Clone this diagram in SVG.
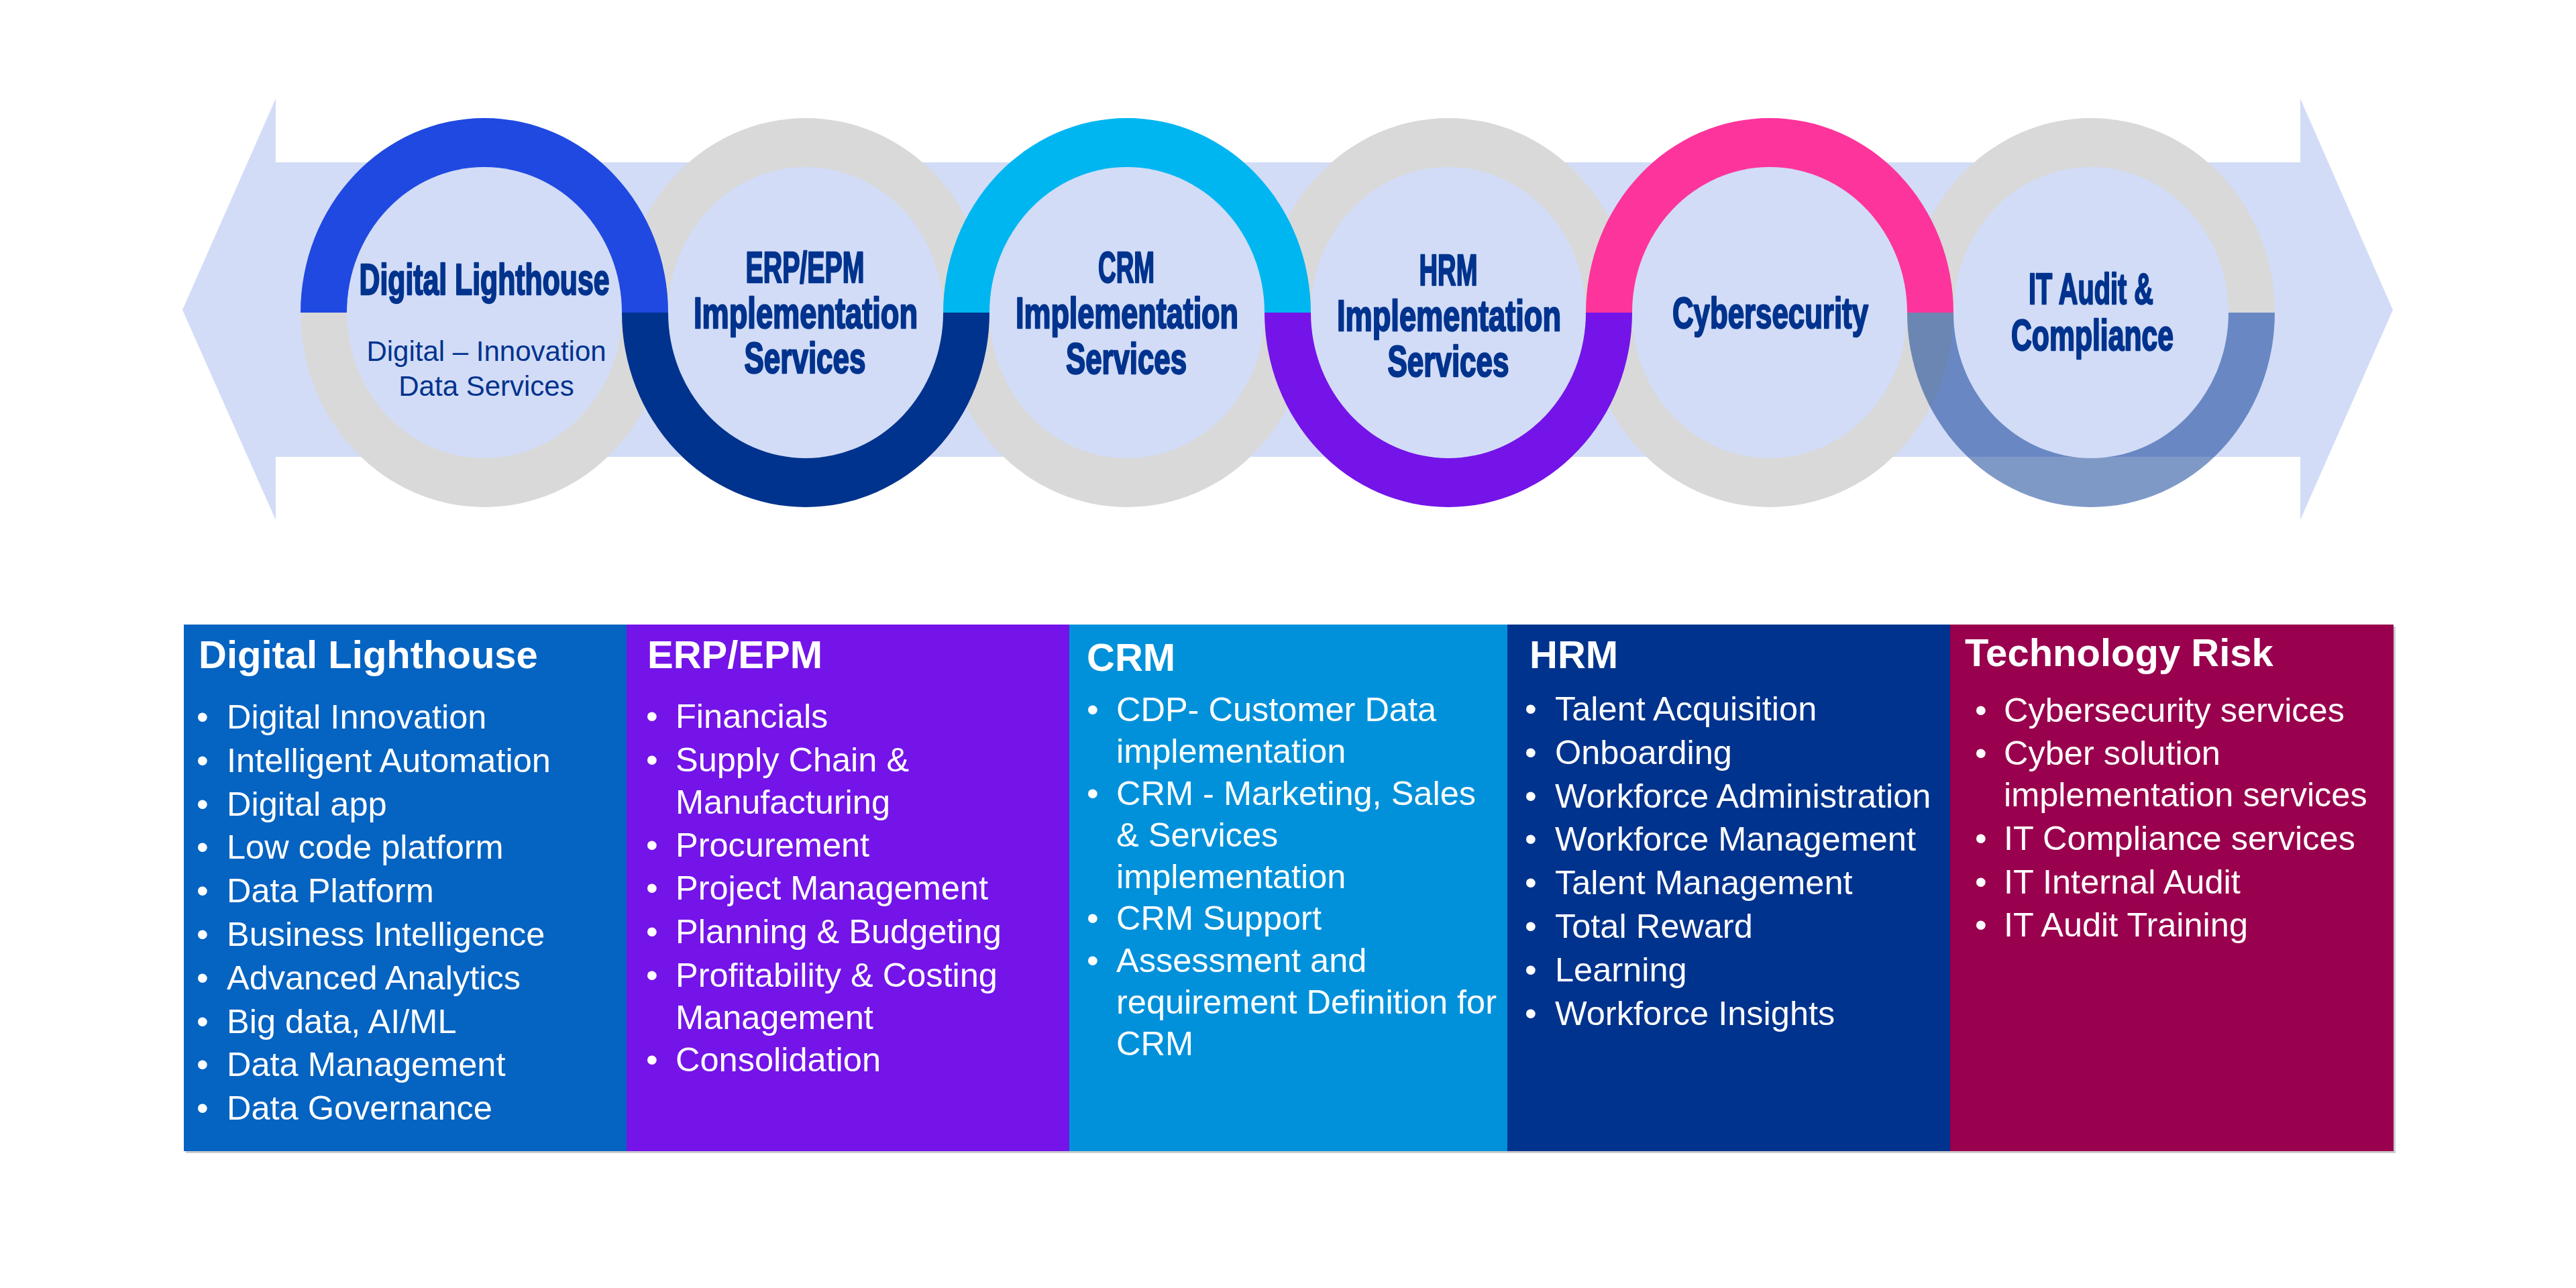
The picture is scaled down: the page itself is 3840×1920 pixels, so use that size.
<svg xmlns="http://www.w3.org/2000/svg" width="3840" height="1920" viewBox="0 0 3840 1920">
<defs>
<style>
.band{fill:#D2DCF7}
.gray{fill:#D9D9D9}
.inner{fill:#D2DCF7}
.ct{font-family:"Liberation Sans Narrow","Liberation Sans",Arial,sans-serif;font-weight:bold;font-size:64px;fill:#00338D;stroke:#00338D;stroke-width:2.4;stroke-linejoin:round;text-anchor:middle}
.cs{font-family:"Liberation Sans",Arial,sans-serif;font-size:42px;fill:#00338D;text-anchor:middle}
.th{font-family:"Liberation Sans",Arial,sans-serif;font-weight:bold;font-size:58px;fill:#FFFFFF}
.ti{font-family:"Liberation Sans",Arial,sans-serif;font-size:50.5px;fill:#FFFFFF}
</style>
</defs>
<rect width="3840" height="1920" fill="#FFFFFF"/>

<g id="connectors">
<polygon id="double-arrow" class="band" points="272,462 411,147 411,242 3429,242 3429,147 3567,462 3429,775 3429,681 411,681 411,775"/>
</g>

<g id="ring-tracks">
<path class="gray" d="M448 466 A274 290 0 0 0 996 466 L926 466 A204 216 0 0 1 518 466 Z"/>
<path class="gray" d="M927 466 A274 290 0 0 1 1475 466 L1405 466 A204 216 0 0 0 997 466 Z"/>
<path class="gray" d="M1406 466 A274 290 0 0 0 1954 466 L1884 466 A204 216 0 0 1 1476 466 Z"/>
<path class="gray" d="M1885 466 A274 290 0 0 1 2433 466 L2363 466 A204 216 0 0 0 1955 466 Z"/>
<path class="gray" d="M2364 466 A274 290 0 0 0 2912 466 L2842 466 A204 216 0 0 1 2434 466 Z"/>
<path class="gray" d="M2843 466 A274 290 0 0 1 3391 466 L3321 466 A204 216 0 0 0 2913 466 Z"/>
</g>

<g id="node-digital-lighthouse">
<path fill="#1F49E1" d="M448 466 A274 290 0 0 1 996 466 L926 466 A204 216 0 0 0 518 466 Z"/>
<ellipse class="inner" cx="722" cy="466" rx="205" ry="217"/>
<text class="ct" x="722" y="439" textLength="373" lengthAdjust="spacingAndGlyphs">Digital Lighthouse</text>
<text class="cs" x="725" y="538">Digital – Innovation</text>
<text class="cs" x="725" y="590">Data Services</text>
</g>

<g id="node-erp">
<path fill="#00338D" d="M927 466 A274 290 0 0 0 1475 466 L1405 466 A204 216 0 0 1 997 466 Z"/>
<ellipse class="inner" cx="1201" cy="466" rx="205" ry="217"/>
<text class="ct" x="1200" y="421" textLength="177" lengthAdjust="spacingAndGlyphs">ERP/EPM</text>
<text class="ct" x="1201" y="489" textLength="334" lengthAdjust="spacingAndGlyphs">Implementation</text>
<text class="ct" x="1200" y="556" textLength="181" lengthAdjust="spacingAndGlyphs">Services</text>
</g>

<g id="node-crm">
<path fill="#00B6F1" d="M1406 466 A274 290 0 0 1 1954 466 L1884 466 A204 216 0 0 0 1476 466 Z"/>
<ellipse class="inner" cx="1680" cy="466" rx="205" ry="217"/>
<text class="ct" x="1679" y="421" textLength="84" lengthAdjust="spacingAndGlyphs">CRM</text>
<text class="ct" x="1680" y="489" textLength="332" lengthAdjust="spacingAndGlyphs">Implementation</text>
<text class="ct" x="1679" y="557" textLength="180" lengthAdjust="spacingAndGlyphs">Services</text>
</g>

<g id="node-hrm">
<path fill="#7414E8" d="M1885 466 A274 290 0 0 0 2433 466 L2363 466 A204 216 0 0 1 1955 466 Z"/>
<ellipse class="inner" cx="2159" cy="466" rx="205" ry="217"/>
<text class="ct" x="2159" y="425" textLength="87" lengthAdjust="spacingAndGlyphs">HRM</text>
<text class="ct" x="2160" y="493" textLength="334" lengthAdjust="spacingAndGlyphs">Implementation</text>
<text class="ct" x="2159" y="561" textLength="181" lengthAdjust="spacingAndGlyphs">Services</text>
</g>

<g id="node-cybersecurity">
<path fill="#FD349C" d="M2364 466 A274 290 0 0 1 2912 466 L2842 466 A204 216 0 0 0 2434 466 Z"/>
<ellipse class="inner" cx="2638" cy="466" rx="205" ry="217"/>
<text class="ct" x="2639" y="489" textLength="292" lengthAdjust="spacingAndGlyphs">Cybersecurity</text>
</g>

<g id="node-it-audit">
<path fill="#00338F" fill-opacity="0.5" d="M2843 466 A274 290 0 0 0 3391 466 L3321 466 A204 216 0 0 1 2913 466 Z"/>
<ellipse class="inner" cx="3117" cy="466" rx="205" ry="217"/>
<text class="ct" x="3117" y="453" textLength="186" lengthAdjust="spacingAndGlyphs">IT Audit &amp;</text>
<text class="ct" x="3119" y="522" textLength="242" lengthAdjust="spacingAndGlyphs">Compliance</text>
</g>

<g id="table-shadow">
<rect x="277" y="934" width="3294" height="785" fill="#BFBFBF" opacity="0.8"/>
</g>

<g id="col-digital-lighthouse">
<rect x="274" y="931" width="660" height="785" fill="#0563C1"/>
<text class="th" x="296" y="996">Digital Lighthouse</text>
<g class="ti">
<text x="293" y="1086">•</text><text x="338" y="1086">Digital Innovation</text>
<text x="293" y="1151">•</text><text x="338" y="1151">Intelligent Automation</text>
<text x="293" y="1216">•</text><text x="338" y="1216">Digital app</text>
<text x="293" y="1280">•</text><text x="338" y="1280">Low code platform</text>
<text x="293" y="1345">•</text><text x="338" y="1345">Data Platform</text>
<text x="293" y="1410">•</text><text x="338" y="1410">Business Intelligence</text>
<text x="293" y="1475">•</text><text x="338" y="1475">Advanced Analytics</text>
<text x="293" y="1540">•</text><text x="338" y="1540">Big data, AI/ML</text>
<text x="293" y="1604">•</text><text x="338" y="1604">Data Management</text>
<text x="293" y="1669">•</text><text x="338" y="1669">Data Governance</text>
</g>
</g>

<g id="col-erp-epm">
<rect x="934" y="931" width="660" height="785" fill="#7414E8"/>
<text class="th" x="965" y="996">ERP/EPM</text>
<g class="ti">
<text x="963" y="1085">•</text><text x="1007" y="1085">Financials</text>
<text x="963" y="1150">•</text><text x="1007" y="1150">Supply Chain &amp;</text>
<text x="1007" y="1213">Manufacturing</text>
<text x="963" y="1277">•</text><text x="1007" y="1277">Procurement</text>
<text x="963" y="1341">•</text><text x="1007" y="1341">Project Management</text>
<text x="963" y="1406">•</text><text x="1007" y="1406">Planning &amp; Budgeting</text>
<text x="963" y="1471">•</text><text x="1007" y="1471">Profitability &amp; Costing</text>
<text x="1007" y="1534">Management</text>
<text x="963" y="1597">•</text><text x="1007" y="1597">Consolidation</text>
</g>
</g>

<g id="col-crm">
<rect x="1594" y="931" width="653" height="785" fill="#0091DA"/>
<text class="th" x="1620" y="1000">CRM</text>
<g class="ti">
<text x="1620" y="1075">•</text><text x="1664" y="1075">CDP- Customer Data</text>
<text x="1664" y="1137">implementation</text>
<text x="1620" y="1200">•</text><text x="1664" y="1200">CRM - Marketing, Sales</text>
<text x="1664" y="1262">&amp; Services</text>
<text x="1664" y="1324">implementation</text>
<text x="1620" y="1386">•</text><text x="1664" y="1386">CRM Support</text>
<text x="1620" y="1449">•</text><text x="1664" y="1449">Assessment and</text>
<text x="1664" y="1511">requirement Definition for</text>
<text x="1664" y="1573">CRM</text>
</g>
</g>

<g id="col-hrm">
<rect x="2247" y="931" width="660" height="785" fill="#00338D"/>
<text class="th" x="2280" y="996">HRM</text>
<g class="ti">
<text x="2273" y="1074">•</text><text x="2318" y="1074">Talent Acquisition</text>
<text x="2273" y="1139">•</text><text x="2318" y="1139">Onboarding</text>
<text x="2273" y="1204">•</text><text x="2318" y="1204">Workforce Administration</text>
<text x="2273" y="1268">•</text><text x="2318" y="1268">Workforce Management</text>
<text x="2273" y="1333">•</text><text x="2318" y="1333">Talent Management</text>
<text x="2273" y="1398">•</text><text x="2318" y="1398">Total Reward</text>
<text x="2273" y="1463">•</text><text x="2318" y="1463">Learning</text>
<text x="2273" y="1528">•</text><text x="2318" y="1528">Workforce Insights</text>
</g>
</g>

<g id="col-technology-risk">
<rect x="2907" y="931" width="661" height="785" fill="#99004D"/>
<text class="th" x="2929" y="993">Technology Risk</text>
<g class="ti">
<text x="2944" y="1076">•</text><text x="2987" y="1076">Cybersecurity services</text>
<text x="2944" y="1140">•</text><text x="2987" y="1140">Cyber solution</text>
<text x="2987" y="1202">implementation services</text>
<text x="2944" y="1267">•</text><text x="2987" y="1267">IT Compliance services</text>
<text x="2944" y="1332">•</text><text x="2987" y="1332">IT Internal Audit</text>
<text x="2944" y="1396">•</text><text x="2987" y="1396">IT Audit Training</text>
</g>
</g>
</svg>
